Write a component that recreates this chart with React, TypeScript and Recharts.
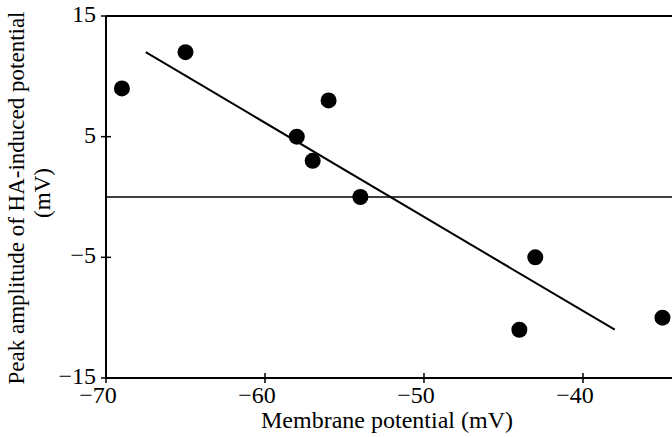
import { ScatterChart, Scatter, XAxis, YAxis, ReferenceLine, Label } from "recharts"

const membranePotential = [-69, -65, -58, -57, -56, -54, -44, -43, -35]
const peakAmplitude = [9, 12, 5, 3, 8, 0, -11, -5, -10]

const fitX = [-67.5, -38]
const fitY = [12, -11]

const xTicks = [-70, -60, -50, -40]
const yTicks = [-15, -5, 5, 15]

const points = membranePotential.map((x, i) => ({ x, y: peakAmplitude[i] }))
const fitLine = fitX.map((x, i) => ({ x, y: fitY[i] }))

const FONT = "'Liberation Serif', 'Times New Roman', serif"
const fmt = (v: number) => (v < 0 ? `\u2212${Math.abs(v)}` : `${v}`)

function XTick(props: any) {
  const { x, y, payload } = props
  return (
    <g>
      <line x1={x} x2={x} y1={y - 5} y2={y + 5} stroke="#000" strokeWidth={1.5} />
      <text x={x - 8} y={y + 25} textAnchor="middle" fontFamily={FONT} fontSize={24} fill="#000">
        {fmt(payload.value)}
      </text>
    </g>
  )
}

function YTick(props: any) {
  const { x, y, payload } = props
  return (
    <g>
      <line x1={x - 5} x2={x + 5} y1={y} y2={y} stroke="#000" strokeWidth={1.5} />
      <text x={x - 10} y={y + 6} textAnchor="end" fontFamily={FONT} fontSize={24} fill="#000">
        {fmt(payload.value)}
      </text>
    </g>
  )
}

function YTitle() {
  return (
    <g fontFamily={FONT} fontSize={23} fill="#000">
      <text transform="translate(24, 198) rotate(-90)" textAnchor="middle">
        Peak amplitude of HA-induced potential
      </text>
      <text transform="translate(50, 193) rotate(-90)" textAnchor="middle">
        (mV)
      </text>
    </g>
  )
}

function XTitle() {
  return (
    <text x={387} y={428} textAnchor="middle" fontFamily={FONT} fontSize={24} fill="#000">
      Membrane potential (mV)
    </text>
  )
}

const Dot = (props: any) => <circle cx={props.cx} cy={props.cy} r={8} fill="#000" />
const NoDot = () => <g />

export default function App() {
  return (
    <div style={{ position: "absolute", top: 0, left: 0, width: 672, height: 437, overflow: "hidden" }}>
      <ScatterChart width={672} height={437} margin={{ top: 16, right: 0, bottom: 0, left: 0 }}>
        <XAxis
          type="number"
          dataKey="x"
          domain={[-70, -34.4]}
          allowDataOverflow
          ticks={xTicks}
          height={59}
          tickSize={0}
          tickMargin={0}
          tickLine={false}
          tick={<XTick />}
          axisLine={{ stroke: "#000", strokeWidth: 2 }}
        >
          <Label content={<XTitle />} />
        </XAxis>
        <YAxis
          type="number"
          dataKey="y"
          domain={[-15, 15]}
          ticks={yTicks}
          width={106}
          tickSize={0}
          tickMargin={0}
          tickLine={false}
          tick={<YTick />}
          axisLine={{ stroke: "#000", strokeWidth: 2 }}
        >
          <Label content={<YTitle />} />
        </YAxis>
        <ReferenceLine y={15} stroke="#000" strokeWidth={2} />
        <ReferenceLine y={0} stroke="#000" strokeWidth={1.5} />
        <Scatter
          data={fitLine}
          line={{ stroke: "#000", strokeWidth: 2 }}
          shape={<NoDot />}
          isAnimationActive={false}
        />
        <Scatter data={points} shape={<Dot />} isAnimationActive={false} />
      </ScatterChart>
    </div>
  )
}
